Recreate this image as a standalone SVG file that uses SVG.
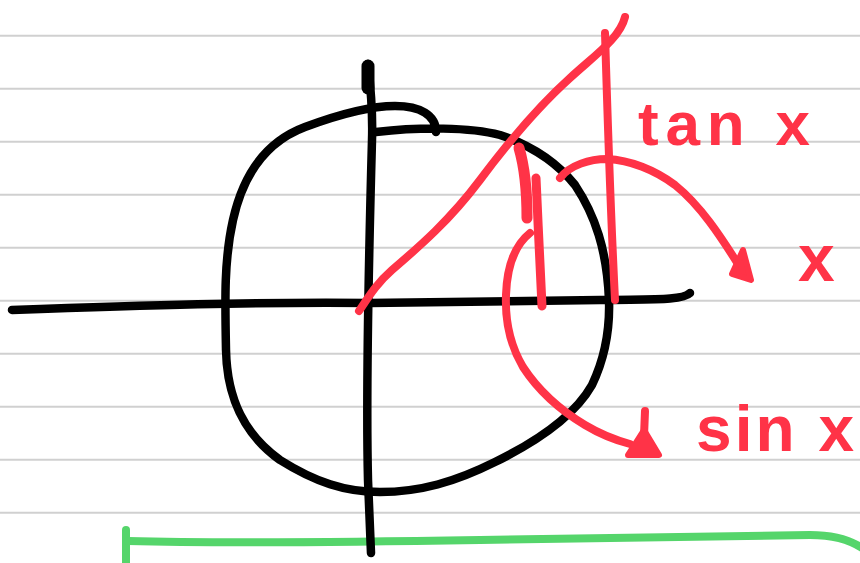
<svg xmlns="http://www.w3.org/2000/svg" width="860" height="563" viewBox="0 0 860 563">
<style>
.rule{stroke:#d0d0d0;stroke-width:2;fill:none}
.ink{fill:none;stroke-linecap:round;stroke-linejoin:round}
.blk{stroke:#000;stroke-width:8.5}
.red{stroke:#ff3347;stroke-width:8}
.grn{stroke:#55d56b;stroke-width:8}
.lbl{font-family:"Liberation Sans",Arial,sans-serif;font-weight:bold;fill:#ff3347}
.head{fill:#ff3347;stroke:#ff3347;stroke-width:6;stroke-linejoin:round}
</style>
<rect width="860" height="563" fill="#fff"/>
<g id="ruled-lines">
<line class="rule" x1="0" y1="35.7" x2="860" y2="35.7"/>
<line class="rule" x1="0" y1="88.7" x2="860" y2="88.7"/>
<line class="rule" x1="0" y1="141.7" x2="860" y2="141.7"/>
<line class="rule" x1="0" y1="194.7" x2="860" y2="194.7"/>
<line class="rule" x1="0" y1="247.7" x2="860" y2="247.7"/>
<line class="rule" x1="0" y1="300.7" x2="860" y2="300.7"/>
<line class="rule" x1="0" y1="353.7" x2="860" y2="353.7"/>
<line class="rule" x1="0" y1="406.7" x2="860" y2="406.7"/>
<line class="rule" x1="0" y1="459.7" x2="860" y2="459.7"/>
<line class="rule" x1="0" y1="512.7" x2="860" y2="512.7"/>
</g>
<g id="green-line">
<path class="ink grn" d="M126,530 L126,563"/>
<path class="ink grn" d="M128,541 C200,543 300,543 480,540 C650,537 750,535 810,535 C835,535 850,540 862,548"/>
</g>
<g id="axes">
<path class="ink blk" d="M12,310 C150,305 250,302 370,303 L600,300 C650,299 682,301 690,293"/>
<path class="ink blk" d="M368,64 C371,90 373,110 372,140 C369,250 366,400 368,480 L371,553"/>
<path class="ink" stroke="#000" stroke-width="13" d="M368,66 L368,88"/>
</g>
<g id="circle">
<path class="ink blk" d="M436,132 C436,115 420,106 395,106 C370,106 340,114 305,127 C265,142 243,175 233,220 C224,260 225,300 226,350 C227,400 245,435 280,460 C315,482 345,492 380,492 C420,492 455,482 495,462 C540,440 575,415 592,385 C604,360 610,330 609,300 C607,250 595,215 575,185 C555,160 530,145 500,135 C470,127 420,127 376,132"/>
</g>
<g id="tan-line">
<path class="ink red" d="M359,311 C368,298 375,285 392,270 C420,246 450,220 480,180 C510,140 540,105 570,78 C595,55 620,38 625,17"/>
<path class="ink red" d="M605,33 C607,100 610,200 615,300"/>
</g>
<g id="sin-line">
<path class="ink" stroke="#ff3347" stroke-width="11" d="M519,148 C524,165 527,190 527,218"/>
<path class="ink" stroke="#ff3347" stroke-width="9" d="M536,178 C538,220 540,270 542,306"/>
</g>
<g id="connectors">
<path class="ink red" d="M560,178 C570,165 590,159 607,159 C630,160 655,170 675,185 C700,205 720,235 743,272"/>
<polygon class="head" points="743,250 751,280 732,274"/>
<path class="ink red" d="M530,233 C515,245 507,265 506,295 C505,320 510,345 523,367 C538,390 560,410 585,425 C600,434 615,440 630,444"/>
<path class="ink red" d="M645,411 L644,436"/>
<polygon class="head" points="644,430 659,455 628,455"/>
</g>
<g id="labels">
<text class="lbl" x="638" y="145" font-size="62" textLength="172" lengthAdjust="spacing">tan x</text>
<text class="lbl" x="798" y="281" font-size="66">x</text>
<text class="lbl" x="696" y="451" font-size="64" textLength="158" lengthAdjust="spacing">sin x</text>
</g>
</svg>
